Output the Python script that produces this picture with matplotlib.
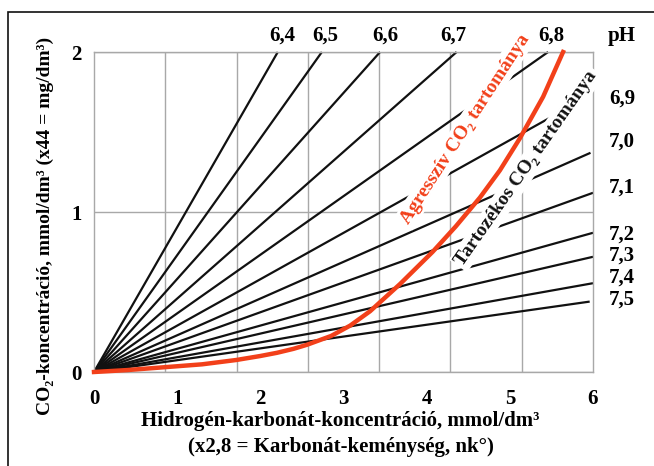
# plot.py
# CO2 / hidrogén-karbonát egyensúlyi diagram (pH vonalak)
import matplotlib
matplotlib.use("Agg")
import matplotlib.pyplot as plt
from matplotlib.patches import Rectangle
import numpy as np

# pH vonalak: origóból a leolvasott végpontig
ph_labels = ['6,4', '6,5', '6,6', '6,7', '6,8', '6,9', '7,0', '7,1', '7,2', '7,3', '7,4', '7,5']
x_end = [2.21, 2.74, 3.44, 4.36, 5.46, 5.52, 5.97, 6.0, 6.0, 6.0, 6.0, 5.96]
y_end = [2.0, 2.0, 2.0, 2.0, 2.0, 1.60, 1.37, 1.12, 0.87, 0.72, 0.555, 0.44]

# határgörbe (piros)
curve_x = [0, 0.4, 0.85, 1.3, 1.71, 2.0, 2.2, 2.4, 2.56, 2.85, 3.08, 3.32, 3.68, 4.07, 4.35,
           4.64, 4.88, 5.12, 5.4, 5.64]
curve_y = [0.0, 0.012, 0.03, 0.048, 0.075, 0.1, 0.12, 0.145, 0.17, 0.225, 0.29, 0.38, 0.55,
           0.75, 0.91, 1.09, 1.26, 1.46, 1.72, 2.0]

# címkék helye
top_labels = ['6,4', '6,5', '6,6', '6,7', '6,8']
top_x = [2.26, 2.78, 3.5, 4.32, 5.5]
right_labels = ['6,9', '7,0', '7,1', '7,2', '7,3', '7,4', '7,5']
right_y = [1.71, 1.44, 1.15, 0.86, 0.73, 0.59, 0.45]

x_ticks = [0, 1, 2, 3, 4, 5, 6]
y_ticks = [0, 1, 2]

RED = '#f2401a'
FONT = ['Liberation Serif', 'DejaVu Serif']
plt.rcParams['font.family'] = FONT
plt.rcParams['font.weight'] = 'bold'

W, H = 654, 466
fig = plt.figure(figsize=(W / 100, H / 100), dpi=100)
ax = fig.add_axes([94 / W, 1 - 372 / H, (593 - 94) / W, (372 - 52) / H])

ax.set_xlim(0, 6)
ax.set_ylim(0, 2)
ax.set_xticks(x_ticks)
ax.set_yticks(y_ticks)
ax.set_xticklabels([str(t) for t in x_ticks], fontsize=15, fontweight='bold')
ax.set_yticklabels([str(t) for t in y_ticks], fontsize=15, fontweight='bold')
ax.set_xticks(np.linspace(0, 6, 8), minor=True)
ax.tick_params(which='both', length=0)
ax.tick_params(axis='x', pad=12)
ax.tick_params(axis='y', pad=9)
ax.grid(True, which='minor', axis='x', color='#a8a8a8', lw=1.0, zorder=0)
ax.grid(True, which='major', axis='y', color='#a8a8a8', lw=1.0, zorder=0)
ax.grid(False, which='major', axis='x')
ax.set_axisbelow(True)
for s in ax.spines.values():
    s.set_color('#a8a8a8')
    s.set_linewidth(1.0)

for xe, ye in zip(x_end, y_end):
    ax.plot([0, xe], [0, ye], color='#111111', lw=1.6, zorder=2,
            solid_capstyle='butt', clip_on=False)

ax.plot(curve_x, curve_y, color=RED, lw=3.2, zorder=5, clip_on=False,
        solid_joinstyle='round')

for lab, xv in zip(top_labels, top_x):
    ax.text(xv, 2.1, lab, ha='center', va='center', fontsize=15, fontweight='bold')
ax.text(6.35, 2.1, 'pH', ha='center', va='center', fontsize=15, fontweight='bold')
for lab, yv in zip(right_labels, right_y):
    ax.text(6.35, yv, lab, ha='center', va='center', fontsize=15, fontweight='bold')

box = dict(facecolor='white', edgecolor='none', pad=2.0)
ax.text(4.46, 1.52, 'Agresszív CO₂ tartománya', color=RED, rotation=57,
        ha='center', va='center', rotation_mode='anchor', fontsize=14,
        fontweight='bold', bbox=box, zorder=3)
ax.text(5.2, 1.275, 'Tartozékos CO₂ tartománya', color='#111111', rotation=55,
        ha='center', va='center', rotation_mode='anchor', fontsize=14,
        fontweight='bold', bbox=box, zorder=3)

fig.text(340 / W, 1 - 421 / H, 'Hidrogén-karbonát-koncentráció, mmol/dm³',
         ha='center', va='center', fontsize=15, fontweight='bold')
fig.text(341 / W, 1 - 447 / H, '(x2,8 = Karbonát-keménység, nk°)',
         ha='center', va='center', fontsize=15, fontweight='bold')
fig.text(45 / W, 1 - 226 / H, 'CO₂-koncentráció, mmol/dm³ (x44 = mg/dm³)',
         ha='center', va='center', rotation=90, fontsize=14, fontweight='bold')

fig.patches.append(Rectangle((8 / W, -0.05), 1.1, 1 - 12 / H + 0.05, fill=False,
                             edgecolor='#111111', lw=1.2, transform=fig.transFigure))

fig.savefig('out.png', dpi=100)
